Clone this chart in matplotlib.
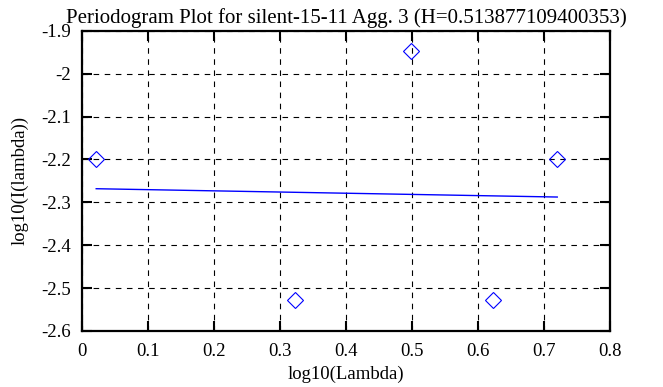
import numpy as np
import matplotlib
matplotlib.use("Agg")
import matplotlib.pyplot as plt
from matplotlib.ticker import FuncFormatter

# periodogram points (log10 lambda, log10 I(lambda))
log_lambda = [0.0212, 0.3222, 0.4983, 0.6232, 0.7201]
log_power = [-2.198, -2.529, -1.947, -2.529, -2.198]

# least squares fit line end points
fit_x = [0.0212, 0.7201]
fit_y = [-2.2682, -2.2876]

title = "Periodogram Plot for silent-15-11 Agg. 3 (H=0.513877109400353)"

plt.rcParams["font.family"] = ["Liberation Serif", "DejaVu Serif"]
plt.rcParams["font.size"] = 13.5

fig = plt.figure(figsize=(6.63, 3.87), dpi=100)
ax = fig.add_axes([0.1240, 0.145, 0.7960, 0.775])

ax.plot(fit_x, fit_y, color="blue", linewidth=1.0, zorder=3)
ax.plot(log_lambda, log_power, linestyle="none", marker="D", markersize=8.5,
        markerfacecolor="none", markeredgecolor="blue", markeredgewidth=0.8, zorder=4)

ax.set_xlim(0, 0.8)
ax.set_ylim(-2.6, -1.9)
ax.set_xticks(np.arange(0, 0.81, 0.1))
ax.set_yticks(np.arange(-2.6, -1.89, 0.1))
ax.xaxis.set_major_formatter(FuncFormatter(lambda v, p: "%g" % round(v, 2)))
ax.yaxis.set_major_formatter(FuncFormatter(lambda v, p: "%g" % round(v, 2)))

ax.grid(True, color="black", linestyle=(0, (5, 5)), linewidth=0.8)
ax.tick_params(direction="in", length=7, width=1.5, top=True, right=True,
               colors="black")
ax.tick_params(axis="x", pad=9)
ax.tick_params(axis="y", pad=8)
for s in ax.spines.values():
    s.set_linewidth(1.6)

ax.set_title(title, fontsize=15, pad=6)
ax.set_xlabel("log10(Lambda)", labelpad=4)
ax.set_ylabel("log10(I(lambda))", labelpad=9)

fig.savefig("out.png", dpi=100)
